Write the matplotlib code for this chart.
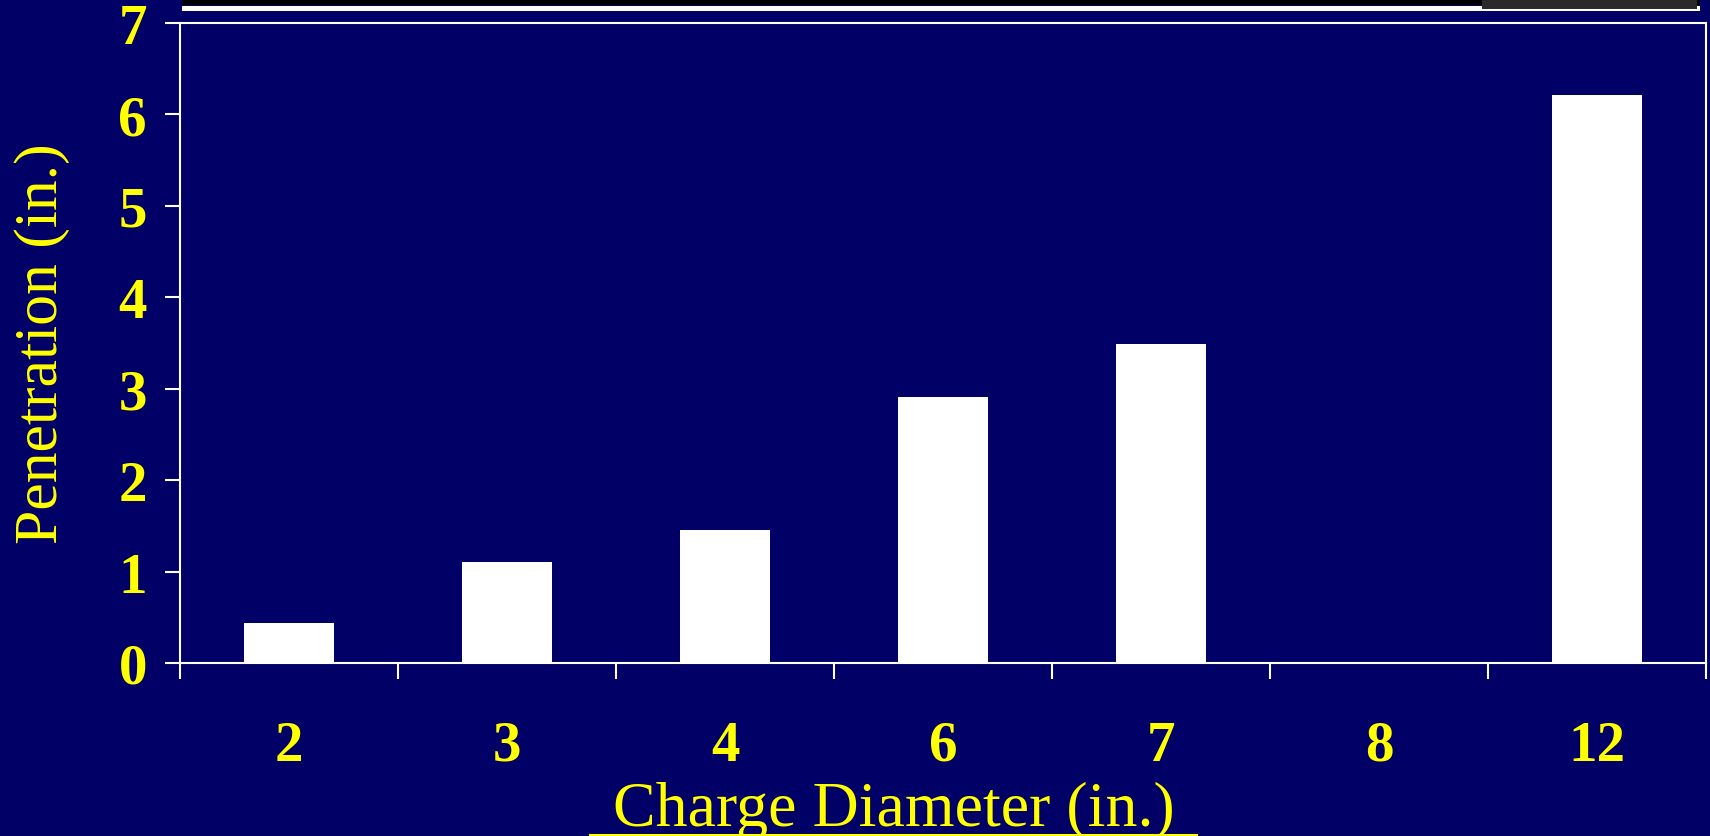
import numpy as np
import matplotlib.pyplot as plt
from matplotlib.patches import Rectangle
from matplotlib.lines import Line2D

# Penetration vs charge diameter
diameters = ['2', '3', '4', '6', '7', '8', '12']
penetration = [0.44, 1.10, 1.45, 2.91, 3.49, 0.0, 6.21]
yticks = [0, 1, 2, 3, 4, 5, 6, 7]

navy = '#000066'
yellow = '#FFFF00'
W, H = 1710, 837

fig = plt.figure(figsize=(17.1, 8.37), dpi=100, facecolor=navy)
ax = fig.add_axes([180 / W, 1 - 664 / H, 1526 / W, 640 / H])
ax.set_facecolor(navy)

x = np.arange(len(diameters))
ax.bar(x, penetration, width=0.41, color='white', edgecolor='none', zorder=2)

ax.set_xlim(-0.5, len(diameters) - 0.5)
ax.set_ylim(0, 7)

# major ticks at category boundaries, labels on minor ticks at centers
ax.set_xticks(np.arange(-0.5, len(diameters)), labels=[''] * (len(diameters) + 1))
ax.set_xticks(x, labels=diameters, minor=True)
ax.tick_params(axis='x', which='major', length=11.5, width=1.5, color='white', direction='out')
ax.tick_params(axis='x', which='minor', length=0, pad=41)
ax.set_yticks(yticks)
ax.tick_params(axis='y', length=10.8, width=1.5, color='white', direction='out', pad=13)

for lab in ax.get_xticklabels(minor=True) + ax.get_yticklabels():
    lab.set_fontfamily('Liberation Serif')
    lab.set_fontweight('bold')
    lab.set_fontsize(41)
    lab.set_color(yellow)

for s in ax.spines.values():
    s.set_color('white')
    s.set_linewidth(1.5)

ax.set_ylabel('Penetration (in.)', fontfamily='Liberation Serif', fontsize=44.5, color=yellow)
ax.yaxis.set_label_coords(-0.072, 0.50)

fig.text(894 / W, 1 - 826 / H, 'Charge Diameter (in.)', fontfamily='Liberation Serif',
         fontsize=46, color=yellow, ha='center', va='baseline')
fig.add_artist(Line2D([590 / W, 1197 / W], [1 - 835.5 / H] * 2, color=yellow,
                      linewidth=1.5, transform=fig.transFigure))

# slide strip along the top edge
fig.add_artist(Rectangle((182 / W, 1 - 6 / H), 1518 / W, 6 / H, transform=fig.transFigure,
                         facecolor='black', edgecolor='none'))
fig.add_artist(Rectangle((182 / W, 1 - 12 / H), 1518 / W, 5.5 / H, transform=fig.transFigure,
                         facecolor='white', edgecolor='none'))
fig.add_artist(Rectangle((1482 / W, 1 - 10 / H), 215 / W, 10 / H, transform=fig.transFigure,
                         facecolor='#2a2a2a', edgecolor='none'))

plt.savefig('out.png', dpi=100, facecolor=navy)
plt.close()
